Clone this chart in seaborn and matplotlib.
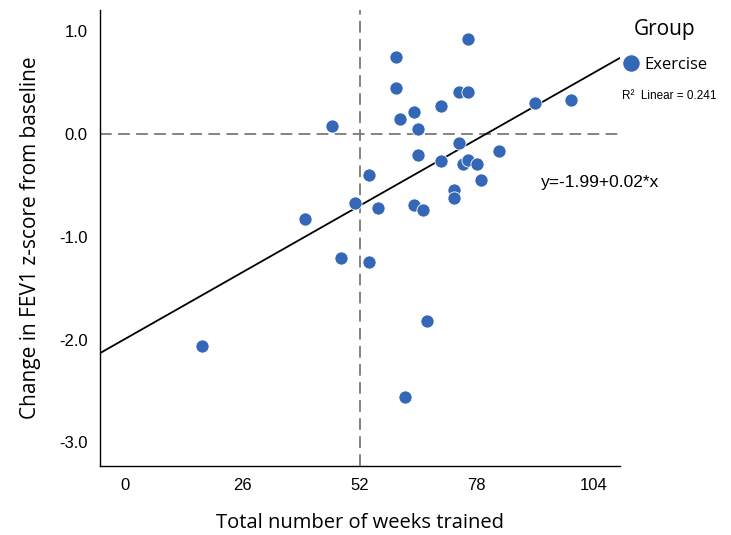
import matplotlib

matplotlib.use("Agg")
import matplotlib.pyplot as plt
import seaborn as sns
from matplotlib.lines import Line2D

# Training weeks and change in FEV1 z-score per participant (exercise group)
weeks = [76, 60, 60, 74, 76, 70, 64, 61, 65, 46, 91, 99, 74, 65, 70, 75, 76,
         78, 83, 54, 79, 73, 73, 51, 56, 64, 66, 40, 48, 54, 67, 17, 62]
fev1_change = [0.919, 0.744, 0.446, 0.404, 0.410, 0.273, 0.215, 0.147, 0.044,
               0.073, 0.303, 0.326, -0.092, -0.203, -0.265, -0.291, -0.258,
               -0.291, -0.170, -0.404, -0.449, -0.547, -0.622, -0.673, -0.719,
               -0.690, -0.738, -0.829, -1.208, -1.250, -1.821, -2.067, -2.563]
x_ticks = [0, 26, 52, 78, 104]
y_ticks = [1.0, 0.0, -1.0, -2.0, -3.0]

POINT_COLOR = "#3567b7"
LABEL_FONT = ["Open Sans", "DejaVu Sans"]
TICK_FONT = ["Liberation Sans", "DejaVu Sans"]

sns.set_style("white")
plt.rcParams["font.family"] = TICK_FONT
plt.rcParams["text.color"] = "black"
plt.rcParams["axes.labelcolor"] = "black"

fig = plt.figure(figsize=(7.31, 5.35), dpi=100)
ax = fig.add_axes([100 / 731, 1 - 466 / 535, 520 / 731, 456 / 535])

ax.set_xlim(-5.54, 109.76)
ax.axhline(0, color="#7a7a7a", lw=1.3, ls=(0, (6.5, 3.5)), zorder=1)
ax.axvline(52, color="#7a7a7a", lw=1.3, ls=(0, (6.5, 3.5)), zorder=1)

sns.regplot(
    x=weeks,
    y=fev1_change,
    ax=ax,
    ci=None,
    truncate=False,
    scatter_kws={"s": 90, "color": POINT_COLOR, "edgecolor": "white",
                 "linewidths": 0.6, "alpha": 1, "zorder": 3},
    line_kws={"color": "black", "lw": 1.3, "zorder": 2},
)
ax.set_ylim(-3.23, 1.205)

ax.set_xticks(x_ticks)
ax.set_xticklabels([str(t) for t in x_ticks])
ax.set_yticks(y_ticks)
ax.set_yticklabels([f"{t:.1f}" for t in y_ticks])
ax.tick_params(axis="both", length=0, labelsize=12, colors="black")
ax.tick_params(axis="x", pad=9)
ax.tick_params(axis="y", pad=9)

for side in ["top", "right"]:
    ax.spines[side].set_visible(False)
for side in ["left", "bottom"]:
    ax.spines[side].set_color("black")
    ax.spines[side].set_linewidth(1.0)

ax.set_xlabel("Total number of weeks trained", fontsize=14.5,
              family=LABEL_FONT, labelpad=14)
ax.set_ylabel("Change in FEV1 z-score from baseline", fontsize=15,
              family=LABEL_FONT, labelpad=13)

ax.text(92.3, -0.475, "y=-1.99+0.02*x", fontsize=12.5, va="center", ha="left")
fig.text(622 / 731, 1 - 96 / 535, "R²  Linear = 0.241", fontsize=8.5,
         va="center", ha="left")

handle = Line2D([], [], ls="none", marker="o", markersize=12.5,
                markerfacecolor=POINT_COLOR, markeredgecolor="white",
                markeredgewidth=0.6)
legend = ax.legend(
    handles=[handle],
    labels=["Exercise"],
    title="Group",
    loc="upper left",
    bbox_to_anchor=(613 / 731, 1 - 11 / 535),
    bbox_transform=fig.transFigure,
    frameon=False,
    borderpad=0,
    handletextpad=0.2,
    handlelength=1.2,
    labelspacing=0.3,
    prop={"family": LABEL_FONT, "size": 12},
)
legend.get_title().set_fontsize(15)
legend.get_title().set_family(LABEL_FONT)
legend._legend_box.sep = 12

fig.savefig("out.png", dpi=100)
